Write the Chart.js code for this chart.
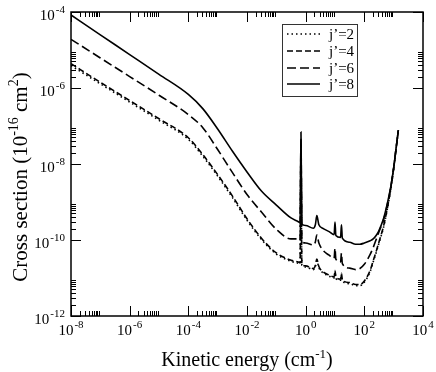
<!DOCTYPE html>
<html>
<head>
<meta charset="utf-8">
<title>Cross section vs kinetic energy</title>
<script src="https://cdn.jsdelivr.net/npm/chart.js@4.4.1/dist/chart.umd.min.js"></script>
<style>
    html, body { margin: 0; padding: 0; background: #fff; }
    canvas { display: block; }
</style>
</head>
<body>
<canvas id="csChart" width="436" height="372"></canvas>
<script>
// Kinetic energy grid (cm-1), shared by all four curves
const energy = [
    1e-8, 1e-7, 1e-6, 1e-5, 1e-4, 3.16e-4, 1e-3, 3.16e-3, 0.01, 0.0316, 0.1, 0.316,
    0.562, 0.646, 0.692, 0.741, 1.0, 1.82, 2.14, 2.40, 2.82, 3.98, 6.31, 9.33, 10.0, 10.7,
    15.5, 16.6, 17.8, 31.6, 50.1, 70.8, 100, 158, 200, 263, 316, 447, 603, 794, 1000, 1202, 1445
];

// Cross sections (10^-16 cm^2)
const j2 = [
    3.89e-6, 1.29e-6, 4.27e-7, 1.41e-7, 4.47e-8, 1.58e-8, 4.79e-9, 1.32e-9, 3.31e-10, 1.02e-10, 4.27e-11, 2.75e-11,
    2.45e-11, 2.34e-11, 2.51e-8, 2.14e-11, 1.95e-11, 1.66e-11, 2.00e-11, 2.88e-11, 1.86e-11, 1.35e-11, 1.12e-11, 1.00e-11, 1.45e-11, 9.77e-12,
    8.71e-12, 1.20e-11, 8.32e-12, 7.08e-12, 6.31e-12, 6.31e-12, 7.76e-12, 1.48e-11, 2.63e-11, 5.13e-11, 8.32e-11, 2.09e-10, 6.31e-10, 2.14e-9, 7.41e-9, 2.40e-8, 7.76e-8
];
const j4 = [
    4.37e-6, 1.41e-6, 4.68e-7, 1.55e-7, 4.90e-8, 1.74e-8, 5.25e-9, 1.45e-9, 3.63e-10, 1.10e-10, 4.57e-11, 2.95e-11,
    2.63e-11, 2.51e-11, 3.16e-8, 2.29e-11, 2.09e-11, 1.78e-11, 2.14e-11, 3.16e-11, 2.00e-11, 1.45e-11, 1.20e-11, 1.07e-11, 1.58e-11, 1.05e-11,
    9.33e-12, 1.32e-11, 8.91e-12, 7.59e-12, 6.76e-12, 6.76e-12, 8.32e-12, 1.58e-11, 2.82e-11, 5.50e-11, 8.91e-11, 2.24e-10, 6.61e-10, 2.24e-9, 7.59e-9, 2.40e-8, 7.76e-8
];
const j6 = [
    1.91e-5, 6.17e-6, 2.00e-6, 6.46e-7, 2.00e-7, 8.91e-8, 2.40e-8, 6.03e-9, 1.58e-9, 5.37e-10, 1.91e-10, 1.07e-10,
    1.07e-10, 1.00e-10, 5.01e-8, 9.33e-11, 8.32e-11, 7.41e-11, 8.91e-11, 1.35e-10, 8.32e-11, 5.25e-11, 3.98e-11, 3.31e-11, 6.03e-11, 3.16e-11,
    2.63e-11, 4.47e-11, 2.40e-11, 1.82e-11, 1.66e-11, 1.78e-11, 2.29e-11, 4.17e-11, 6.31e-11, 1.12e-10, 1.66e-10, 3.31e-10, 8.32e-10, 2.40e-9, 7.94e-9, 2.51e-8, 7.76e-8
];
const j8 = [
    8.32e-5, 2.51e-5, 7.59e-6, 2.29e-6, 6.76e-7, 2.82e-7, 8.32e-8, 2.19e-8, 6.17e-9, 1.91e-9, 8.32e-10, 3.80e-10,
    3.02e-10, 2.82e-10, 6.92e-8, 2.63e-10, 2.40e-10, 2.04e-10, 2.51e-10, 4.37e-10, 2.51e-10, 2.00e-10, 1.66e-10, 1.38e-10, 2.95e-10, 1.32e-10,
    1.17e-10, 2.51e-10, 1.12e-10, 8.71e-11, 7.76e-11, 7.76e-11, 8.32e-11, 9.55e-11, 1.07e-10, 1.38e-10, 1.78e-10, 3.55e-10, 8.91e-10, 2.51e-9, 7.94e-9, 2.51e-8, 7.76e-8
];

const seriesLabels = ["j\u2019=2", "j\u2019=4", "j\u2019=6", "j\u2019=8"];
const seriesDash = [[1.5, 3], [6, 3], [9, 4], []];

// Axis decades (major ticks every 100x) and their exponent labels
const xMajor = [1e-8, 1e-6, 1e-4, 1e-2, 1, 1e2, 1e4];
const xExp = ["-8", "-6", "-4", "-2", "0", "2", "4"];
const yMajor = [1e-12, 1e-10, 1e-8, 1e-6, 1e-4];
const yExp = ["-12", "-10", "-8", "-6", "-4"];

const serif = '"Liberation Serif", "DejaVu Serif", serif';

function pts(ys) {
    return energy.map((e, i) => ({ x: e, y: ys[i] }));
}

// "10" with a superscript exponent
function drawPow(ctx, x, y, exp, size, align) {
    ctx.font = size + 'px ' + serif;
    const wb = ctx.measureText('10').width;
    const supSize = Math.round(size * 0.7);
    ctx.font = supSize + 'px ' + serif;
    const we = ctx.measureText(exp).width;
    const total = wb + 1 + we;
    const x0 = align === 'right' ? x - total : x - total / 2;
    ctx.textAlign = 'left';
    ctx.textBaseline = 'alphabetic';
    ctx.font = size + 'px ' + serif;
    ctx.fillText('10', x0, y);
    ctx.font = supSize + 'px ' + serif;
    ctx.fillText(exp, x0 + wb + 1, y - size * 0.45);
}

// draw a run of text pieces, some raised as superscripts
function drawRich(ctx, x, y, parts, size) {
    const supSize = Math.round(size * 0.65);
    let total = 0;
    parts.forEach(p => {
        ctx.font = (p.sup ? supSize : size) + 'px ' + serif;
        total += ctx.measureText(p.t).width;
    });
    let cx = x - total / 2;
    ctx.textAlign = 'left';
    ctx.textBaseline = 'alphabetic';
    parts.forEach(p => {
        ctx.font = (p.sup ? supSize : size) + 'px ' + serif;
        ctx.fillText(p.t, cx, p.sup ? y - size * 0.42 : y);
        cx += ctx.measureText(p.t).width;
    });
}

const framePlugin = {
    id: 'framePlugin',
    afterDraw(chart) {
        const ctx = chart.ctx;
        const a = chart.chartArea;
        const xs = chart.scales.x;
        const ys = chart.scales.y;
        ctx.save();
        ctx.strokeStyle = '#000';
        ctx.fillStyle = '#000';

        // frame
        ctx.lineWidth = 1.5;
        ctx.setLineDash([]);
        ctx.strokeRect(a.left, a.top, a.right - a.left, a.bottom - a.top);

        // ticks on all four sides, pointing in
        ctx.lineWidth = 1;
        ctx.beginPath();
        xMajor.forEach(v => {
            const px = Math.round(xs.getPixelForValue(v)) + 0.5;
            ctx.moveTo(px, a.bottom); ctx.lineTo(px, a.bottom - 10);
            ctx.moveTo(px, a.top); ctx.lineTo(px, a.top + 10);
            for (let k = 2; k <= 9; k++) {
                if (v * k > xs.max) break;
                const mx = Math.round(xs.getPixelForValue(v * k)) + 0.5;
                ctx.moveTo(mx, a.bottom); ctx.lineTo(mx, a.bottom - 5);
                ctx.moveTo(mx, a.top); ctx.lineTo(mx, a.top + 5);
            }
        });
        yMajor.forEach(v => {
            const py = Math.round(ys.getPixelForValue(v)) + 0.5;
            ctx.moveTo(a.left, py); ctx.lineTo(a.left + 10, py);
            ctx.moveTo(a.right, py); ctx.lineTo(a.right - 10, py);
            for (let k = 2; k <= 9; k++) {
                if (v * k > ys.max) break;
                const my = Math.round(ys.getPixelForValue(v * k)) + 0.5;
                ctx.moveTo(a.left, my); ctx.lineTo(a.left + 5, my);
                ctx.moveTo(a.right, my); ctx.lineTo(a.right - 5, my);
            }
        });
        ctx.stroke();

        // tick labels
        xMajor.forEach((v, i) => {
            drawPow(ctx, xs.getPixelForValue(v), a.bottom + 19, xExp[i], 15, 'center');
        });
        yMajor.forEach((v, i) => {
            drawPow(ctx, a.left - 6, ys.getPixelForValue(v) + 8, yExp[i], 15, 'right');
        });

        // axis titles
        drawRich(ctx, (a.left + a.right) / 2, 366, [
            { t: 'Kinetic energy (cm' }, { t: '-1', sup: true }, { t: ')' }
        ], 20);
        ctx.save();
        ctx.translate(27, 177);
        ctx.rotate(-Math.PI / 2);
        drawRich(ctx, 0, 0, [
            { t: 'Cross section (10' }, { t: '-16', sup: true }, { t: ' cm' }, { t: '2', sup: true }, { t: ')' }
        ], 21);
        ctx.restore();

        // legend box
        const lx = 282, ly = 24, lw = 75, lh = 72;
        ctx.fillStyle = '#fff';
        ctx.fillRect(lx, ly, lw, lh);
        ctx.strokeStyle = '#333';
        ctx.lineWidth = 1;
        ctx.strokeRect(lx + 0.5, ly + 0.5, lw, lh);
        const rows = [34, 51, 68, 84];
        ctx.strokeStyle = '#000';
        ctx.fillStyle = '#000';
        seriesLabels.forEach((lab, i) => {
            ctx.lineWidth = 1.6;
            ctx.setLineDash(seriesDash[i]);
            ctx.beginPath();
            ctx.moveTo(287, rows[i]);
            ctx.lineTo(320, rows[i]);
            ctx.stroke();
            ctx.setLineDash([]);
            ctx.font = '15px ' + serif;
            ctx.textAlign = 'left';
            ctx.textBaseline = 'middle';
            ctx.fillText(lab, 329, rows[i] + 1);
        });
        ctx.restore();
    }
};

const datasets = [j2, j4, j6, j8].map((ys, i) => ({
    label: seriesLabels[i],
    data: pts(ys),
    borderColor: '#000',
    borderWidth: 1.6,
    borderDash: seriesDash[i],
    pointRadius: 0,
    cubicInterpolationMode: 'monotone',
    fill: false
}));

const hiddenAxis = (min, max) => ({
    type: 'logarithmic',
    display: false,
    min: min,
    max: max
});

new Chart(document.getElementById('csChart'), {
    type: 'line',
    data: { datasets: datasets },
    options: {
        responsive: false,
        animation: false,
        devicePixelRatio: 1,
        layout: { padding: { left: 71, right: 13, top: 12, bottom: 56 } },
        plugins: {
            legend: { display: false },
            tooltip: { enabled: false }
        },
        scales: {
            x: hiddenAxis(1e-8, 1e4),
            y: hiddenAxis(1e-12, 1e-4)
        }
    },
    plugins: [framePlugin]
});
</script>
</body>
</html>
